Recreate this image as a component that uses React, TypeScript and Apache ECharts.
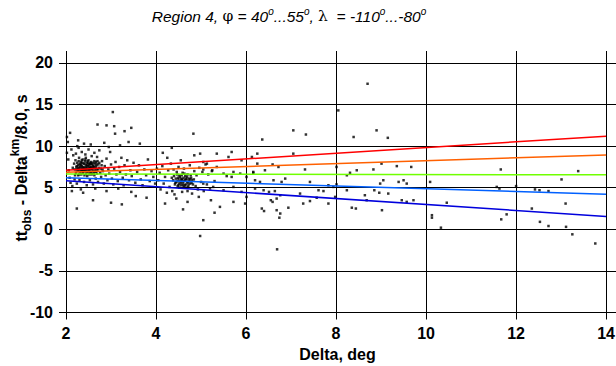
import React, { useEffect, useRef } from 'react';
import * as echarts from 'echarts';

const xTicks = [2, 4, 6, 8, 10, 12, 14];
const yTicks = [-10, -5, 0, 5, 10, 15, 20];

const redLine = [[2, 7.1], [14, 11.2]];
const orangeLine = [[2, 6.85], [14, 8.95]];
const greenLine = [[2, 6.65], [14, 6.55]];
const lightBlueLine = [[2, 6.2], [14, 4.22]];
const darkBlueLine = [[2, 5.85], [14, 1.55]];

const nearCore = [
  [2.18, 7.9], [2.2, 7.2], [2.21, 8.3], [2.22, 6.8], [2.24, 7.6], [2.25, 8.0], [2.26, 7.0], [2.27, 6.5], [2.28, 7.4], [2.29, 8.6],
  [2.3, 7.8], [2.31, 6.9], [2.32, 7.3], [2.33, 8.1], [2.34, 6.6], [2.35, 7.6], [2.36, 7.1], [2.37, 8.4], [2.38, 6.8], [2.39, 7.9],
  [2.4, 7.4], [2.41, 6.5], [2.42, 8.2], [2.43, 7.0], [2.44, 7.7], [2.45, 6.7], [2.46, 8.0], [2.47, 7.3], [2.48, 6.9], [2.49, 7.6],
  [2.5, 8.3], [2.51, 7.1], [2.52, 6.6], [2.53, 7.8], [2.54, 7.4], [2.55, 6.9], [2.56, 8.1], [2.57, 7.2], [2.58, 6.7], [2.59, 7.7],
  [2.6, 7.0], [2.61, 8.0], [2.62, 7.5], [2.63, 6.5], [2.64, 7.3], [2.65, 7.9], [2.66, 6.9], [2.67, 7.6], [2.68, 7.1], [2.7, 8.2],
  [2.31, 7.5], [2.36, 8.0], [2.44, 8.6], [2.52, 7.5], [2.47, 6.4], [2.27, 7.7], [2.38, 7.2], [2.58, 7.9], [2.62, 6.8], [2.34, 7.0],
  [2.41, 7.9], [2.55, 7.3], [2.29, 6.6], [2.49, 8.0], [2.73, 7.4], [2.76, 6.8], [2.72, 7.8], [2.2, 6.5], [2.15, 7.4], [2.23, 7.5],
  [2.26, 7.3], [2.28, 8.2], [2.3, 7.1], [2.33, 7.7], [2.35, 8.3], [2.37, 6.9], [2.39, 7.5], [2.42, 7.2], [2.43, 8.4], [2.45, 7.5],
  [2.46, 7.0], [2.48, 8.2], [2.5, 7.3], [2.51, 7.8], [2.53, 6.8], [2.54, 8.0], [2.56, 7.5], [2.57, 6.6], [2.59, 7.3], [2.61, 7.6],
  [2.63, 8.2], [2.64, 7.0], [2.66, 7.4], [2.68, 7.8], [2.69, 6.7], [2.71, 7.2], [2.74, 8.0], [2.77, 7.3], [2.79, 7.7], [2.81, 7.2],
  [2.24, 7.2], [2.32, 7.9], [2.4, 7.0], [2.47, 7.7], [2.55, 7.9], [2.6, 7.4], [2.67, 8.1], [2.36, 7.4], [2.44, 7.3], [2.52, 7.1],
];

const nearHalo = [
  [2.02, 9.2], [2.05, 8.4], [2.06, 7.1], [2.08, 6.2], [2.1, 5.6], [2.04, 10.5], [2.12, 9.6], [2.14, 5.2], [2.16, 8.9], [2.19, 6.0],
  [2.22, 9.1], [2.24, 5.5], [2.28, 9.8], [2.3, 5.9], [2.33, 4.8], [2.35, 9.3], [2.4, 5.7], [2.43, 9.0], [2.46, 5.3], [2.5, 9.6],
  [2.53, 5.9], [2.57, 8.8], [2.6, 5.4], [2.63, 9.2], [2.66, 6.1], [2.69, 8.7], [2.71, 5.7], [2.74, 9.5], [2.78, 6.3], [2.8, 8.2],
  [2.82, 7.0], [2.84, 5.5], [2.86, 7.6], [2.88, 6.5], [2.9, 8.5], [2.92, 5.9], [2.94, 7.2], [2.96, 6.7], [2.98, 9.3], [3.0, 7.8],
  [3.02, 6.1], [3.05, 5.4], [3.07, 7.3], [3.1, 8.1], [3.12, 6.6], [3.15, 5.8], [3.18, 7.5], [3.2, 6.9], [3.23, 8.6], [3.26, 6.2],
  [3.28, 5.3], [3.3, 7.7], [3.33, 6.6], [3.36, 8.3], [3.4, 5.9], [3.43, 7.1], [3.46, 6.4], [3.5, 8.0], [3.54, 5.6], [3.58, 6.9],
  [3.62, 7.7], [3.66, 6.0], [3.7, 5.3], [3.74, 7.2], [3.78, 6.5], [3.82, 8.4], [3.86, 5.8], [3.9, 7.0], [3.94, 6.3], [3.98, 5.5],
  [2.13, 4.6], [2.38, 4.4], [2.65, 4.9], [2.9, 4.6], [3.16, 4.9], [3.45, 4.5], [2.55, 10.2], [2.85, 10.4], [3.2, 10.1], [2.95, 9.9],
];

const nearOutliers = [
  [2.7, 12.6], [2.9, 12.5], [3.07, 12.4], [2.09, 11.6], [3.09, 11.5], [3.39, 10.5], [2.4, 10.3], [2.25, 10.0], [3.64, 10.3], [3.04, 14.1],
  [2.24, 2.5], [3.24, 3.0], [3.79, 3.8], [2.6, 3.5], [3.0, 3.2], [3.55, 4.0], [2.02, 11.1], [2.27, 10.7], [3.3, 11.8], [3.45, 12.2],
];

const midCore = [
  [4.38, 5.9], [4.4, 6.4], [4.42, 5.4], [4.44, 6.1], [4.45, 5.7], [4.47, 6.6], [4.48, 5.2], [4.5, 6.0], [4.51, 5.5], [4.53, 6.3],
  [4.54, 5.8], [4.56, 5.3], [4.57, 6.5], [4.58, 6.0], [4.6, 5.6], [4.61, 6.2], [4.62, 5.1], [4.64, 5.9], [4.65, 6.4], [4.66, 5.4],
  [4.68, 6.0], [4.69, 5.7], [4.7, 6.6], [4.72, 5.3], [4.73, 6.1], [4.74, 5.8], [4.76, 5.5], [4.78, 6.2], [4.8, 5.9], [4.82, 5.4],
  [4.52, 5.0], [4.59, 6.8], [4.67, 5.0], [4.46, 6.9], [4.63, 6.7], [4.71, 5.1], [4.55, 5.6], [4.49, 6.2], [4.77, 6.5], [4.6, 5.3],
  [4.43, 5.6], [4.69, 6.3], [4.57, 5.9], [4.84, 6.0], [4.35, 6.2], [4.48, 5.8], [4.52, 6.5], [4.56, 6.1], [4.62, 5.8], [4.66, 6.1],
  [4.71, 5.6], [4.75, 6.0], [4.79, 5.6], [4.5, 5.3], [4.64, 5.3],
];

const midHalo = [
  [4.02, 7.3], [4.05, 5.9], [4.08, 6.8], [4.1, 4.8], [4.14, 7.6], [4.17, 5.5], [4.2, 6.3], [4.24, 4.4], [4.27, 7.1], [4.3, 5.1],
  [4.33, 7.9], [4.36, 4.6], [4.39, 7.2], [4.41, 4.2], [4.5, 7.5], [4.58, 4.5], [4.62, 7.3], [4.7, 4.6], [4.75, 7.7], [4.8, 4.3],
  [4.85, 7.0], [4.88, 5.2], [4.9, 6.5], [4.93, 4.8], [4.96, 7.4], [5.0, 5.7], [5.03, 6.9], [5.06, 4.6], [5.1, 7.8], [5.13, 5.4],
  [5.16, 6.6], [5.2, 4.9], [5.25, 7.1], [5.3, 5.8], [4.25, 8.6], [4.55, 8.3], [4.85, 8.9], [5.05, 8.1], [4.15, 9.2], [4.45, 3.7],
  [4.7, 3.3], [4.95, 3.9], [5.22, 3.5], [4.2, 3.1], [4.83, 11.5], [5.05, 1.1], [4.98, -0.8], [4.6, 2.4], [5.3, 2.0], [4.35, 9.8],
];

const farPoints = [
  [5.05, 7.2], [5.13, 7.9], [5.24, 7.0], [5.35, 7.5], [5.5, 6.7], [5.57, 6.4], [5.68, 6.3], [5.72, 6.9], [5.87, 6.7], [6.01, 6.3],
  [6.16, 6.8], [4.98, 9.1], [5.35, 9.1], [5.61, 8.7], [5.9, 8.3], [6.13, 8.7], [6.25, 9.1], [5.05, 5.5], [5.27, 5.1], [5.5, 4.7],
  [5.72, 5.1], [5.9, 4.5], [6.01, 3.9], [5.72, 3.3], [5.42, 2.7], [5.98, 3.1], [5.68, 9.3],
  [7.05, 11.9], [7.33, 11.4], [6.36, 10.8], [8.39, 11.1], [9.15, 11.0], [7.05, 9.1], [6.25, 7.9], [6.59, 7.8], [6.72, 7.5],
  [7.31, 7.2], [6.16, 6.9], [6.42, 7.1], [8.01, 7.5], [8.46, 7.1], [8.83, 7.2], [9.01, 7.9], [9.35, 7.6], [9.67, 7.5], [8.24, 6.5],
  [8.31, 6.8], [6.2, 5.9], [6.31, 5.7], [6.61, 5.9], [6.79, 5.7], [6.87, 6.1], [7.42, 5.7], [8.01, 5.4], [8.98, 5.5], [9.05, 5.9],
  [9.39, 5.7], [9.5, 5.9], [9.57, 5.5], [10.09, 5.7], [6.2, 4.9], [6.39, 4.7], [6.51, 4.5], [6.64, 4.6], [6.76, 4.1], [6.55, 3.5],
  [6.68, 3.7], [6.59, 3.3], [6.35, 2.5], [6.4, 2.2], [6.68, 2.3], [6.76, 1.9], [6.74, 1.4], [6.94, 2.6], [7.2, 4.3], [7.42, 3.4],
  [7.61, 4.7], [7.72, 4.6], [7.83, 3.1], [7.98, 3.9], [8.24, 4.7], [8.35, 2.6], [8.44, 2.5], [8.64, 4.1], [8.68, 3.5], [8.85, 4.7],
  [8.96, 4.4], [9.02, 2.3], [9.16, 4.3], [9.46, 3.5], [9.57, 3.3], [9.72, 3.5], [10.13, 1.4], [10.13, 1.7], [10.33, 0.2], [10.46, 3.2],
  [6.69, -2.4], [7.83, 5.3], [7.94, 5.1], [7.27, 3.1], [7.57, 3.8], [8.9, 11.9], [8.05, 14.3], [8.7, 17.5],
  [11.66, 7.2], [13.38, 7.0], [13.01, 6.0], [11.57, 5.1], [11.63, 4.9], [12.0, 5.2], [12.42, 4.8], [12.52, 4.7], [12.72, 4.6],
  [11.79, 1.8], [11.67, 1.2], [12.35, 2.5], [12.53, 0.9], [12.72, 0.4], [13.1, 3.1], [13.11, 0.3], [13.25, -0.6], [13.76, -1.7],
];

const font = "'Liberation Sans', Arial, Helvetica, sans-serif";

export default function App() {
  const ref = useRef<HTMLDivElement>(null);
  useEffect(() => {
    if (!ref.current) return;
    const chart = echarts.init(ref.current, null, { renderer: 'svg' });
    const dots = (name: string, data: number[][]) => ({
      name,
      type: 'scatter',
      data,
      symbol: 'rect',
      symbolSize: [2.5, 2.5],
      itemStyle: { color: '#000000' },
      silent: true,
      z: 2,
    });
    const fit = (name: string, data: number[][], color: string) => ({
      name,
      type: 'line',
      data,
      showSymbol: false,
      symbol: 'none',
      lineStyle: { color, width: 1.5 },
      silent: true,
      z: 3,
    });
    const titleText = { fontWeight: 'normal', color: '#000' };
    chart.setOption({
      animation: false,
      backgroundColor: '#ffffff',
      title: {
        text: '{i|Region 4, }{g|φ}{i| = 40}{s|o}{i|...55}{s|o}{i|, }{g|λ}{i|  = -110}{s|o}{i|...-80}{s|o}',
        left: 284,
        top: 1,
        textAlign: 'center',
        textStyle: {
          color: '#000',
          fontSize: 15,
          fontWeight: 'normal',
          fontFamily: font,
          rich: {
            i: { ...titleText, fontStyle: 'italic', fontSize: 15.5, fontFamily: font, lineHeight: 20 },
            g: { ...titleText, fontSize: 15.5, fontFamily: "'DejaVu Serif', serif", lineHeight: 20 },
            s: { ...titleText, fontStyle: 'italic', fontSize: 10, fontFamily: font, verticalAlign: 'top' },
          },
        },
      },
      grid: { left: 59, right: 0, top: 51, bottom: 46.5, containLabel: false, outerBoundsMode: 'none' },
      xAxis: {
        type: 'value',
        min: 1.844,
        max: 14.22,
        name: 'Delta, deg',
        nameLocation: 'middle',
        nameGap: 20,
        nameTextStyle: { fontSize: 16, fontWeight: 'bold', fontFamily: font, color: '#000' },
        axisLine: { show: false },
        axisTick: { show: false, customValues: xTicks },
        axisLabel: { customValues: xTicks, fontSize: 16, fontWeight: 'bold', fontFamily: font, color: '#000', margin: 6 },
        splitLine: { show: true, lineStyle: { color: '#000', width: 1 } },
      },
      yAxis: {
        type: 'value',
        min: -10.84,
        max: 21.44,
        axisLine: { show: false },
        axisTick: { show: false, customValues: yTicks },
        axisLabel: { customValues: yTicks, fontSize: 16, fontWeight: 'bold', fontFamily: font, color: '#000', margin: 6 },
        splitLine: { show: true, lineStyle: { color: '#000', width: 1 } },
      },
      graphic: [
        {
          type: 'text',
          x: 21,
          y: 168,
          rotation: Math.PI / 2,
          style: {
            text: '{m|tt}{sub|obs}{m| - Delta}{sup|km}{m|/8.0, s}',
            align: 'center',
            verticalAlign: 'middle',
            fill: '#000',
            rich: {
              m: { fontSize: 16, fontWeight: 'bold', fontFamily: font, fill: '#000', lineHeight: 24 },
              sub: { fontSize: 12, fontWeight: 'bold', fontFamily: font, fill: '#000', verticalAlign: 'bottom' },
              sup: { fontSize: 12, fontWeight: 'bold', fontFamily: font, fill: '#000', verticalAlign: 'top' },
            },
          },
        },
      ],
      series: [
        dots('near core', nearCore),
        dots('near halo', nearHalo),
        dots('near outliers', nearOutliers),
        dots('mid core', midCore),
        dots('mid halo', midHalo),
        dots('far', farPoints),
        fit('red', redLine, '#ff0000'),
        fit('orange', orangeLine, '#ff6000'),
        fit('green', greenLine, '#70ff00'),
        fit('light blue', lightBlueLine, '#0060ff'),
        fit('dark blue', darkBlueLine, '#0000dd'),
      ],
    });
    return () => chart.dispose();
  }, []);
  return <div ref={ref} style={{ position: 'fixed', left: 0, top: 0, width: 616, height: 366 }} />;
}
